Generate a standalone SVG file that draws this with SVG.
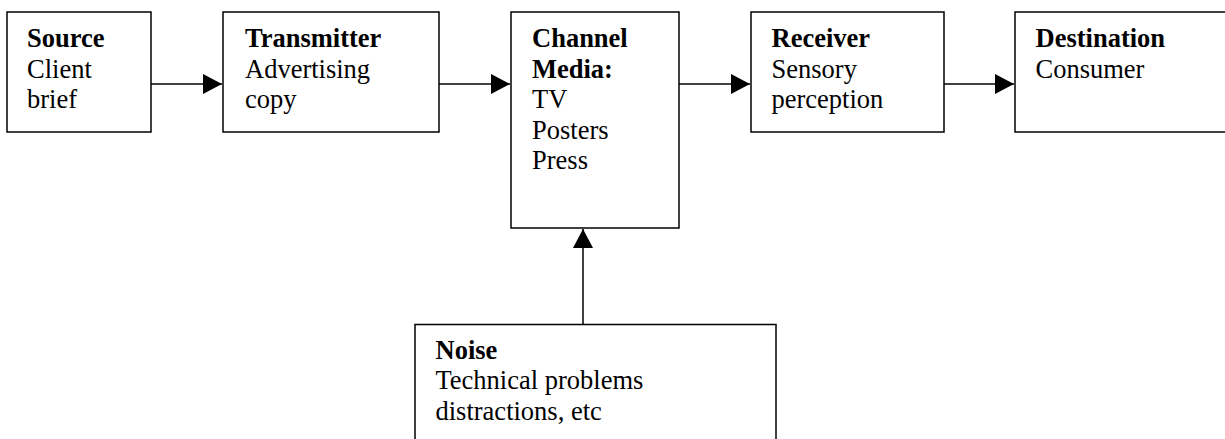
<svg xmlns="http://www.w3.org/2000/svg" width="1225" height="439" viewBox="0 0 1225 439">
<style>
.box{fill:#fff;stroke:#000;stroke-width:1.5}
.t{font-family:"Liberation Serif","Times New Roman",serif;font-size:26.5px;fill:#000}
.b{font-weight:bold}
.c{stroke:#000;stroke-width:1.5;fill:none}
</style>
<defs>
<marker id="ah" markerWidth="19" markerHeight="20" refX="19" refY="10" orient="auto" markerUnits="userSpaceOnUse">
<path d="M0,0 L19,10 L0,20 Z" fill="#000"/>
</marker>
</defs>
<rect width="1225" height="439" fill="#fff"/>
<g id="connectors">
<line class="c" x1="151" y1="84" x2="222" y2="84" marker-end="url(#ah)"/>
<line class="c" x1="439" y1="84" x2="510" y2="84" marker-end="url(#ah)"/>
<line class="c" x1="679" y1="84" x2="750" y2="84" marker-end="url(#ah)"/>
<line class="c" x1="944" y1="84" x2="1014" y2="84" marker-end="url(#ah)"/>
<line class="c" x1="583" y1="324" x2="583" y2="229" marker-end="url(#ah)"/>
</g>
<g id="source">
<rect class="box" x="7" y="12" width="144" height="120"/>
<text class="t" x="27" y="47"><tspan class="b">Source</tspan><tspan x="27" y="77.5">Client</tspan><tspan x="27" y="108">brief</tspan></text>
</g>
<g id="transmitter">
<rect class="box" x="223" y="12" width="216" height="120"/>
<text class="t" x="245" y="47"><tspan class="b">Transmitter</tspan><tspan x="245" y="77.5">Advertising</tspan><tspan x="245" y="108">copy</tspan></text>
</g>
<g id="channel">
<rect class="box" x="511" y="12" width="168" height="216"/>
<text class="t" x="532" y="47"><tspan class="b">Channel</tspan><tspan class="b" x="532" y="77.5">Media:</tspan><tspan x="532" y="108">TV</tspan><tspan x="532" y="138.5">Posters</tspan><tspan x="532" y="169">Press</tspan></text>
</g>
<g id="receiver">
<rect class="box" x="751" y="12" width="193" height="120"/>
<text class="t" x="771.5" y="47"><tspan class="b">Receiver</tspan><tspan x="771.5" y="77.5">Sensory</tspan><tspan x="771.5" y="108">perception</tspan></text>
</g>
<g id="destination">
<rect class="box" x="1015" y="12" width="230" height="120"/>
<text class="t" x="1035.5" y="47"><tspan class="b">Destination</tspan><tspan x="1035.5" y="77.5">Consumer</tspan></text>
</g>
<g id="noise">
<rect class="box" x="415" y="324.5" width="361" height="140"/>
<text class="t" x="435.5" y="358.5"><tspan class="b">Noise</tspan><tspan x="435.5" y="388.5">Technical problems</tspan><tspan x="435.5" y="420">distractions, etc</tspan></text>
</g>
</svg>
